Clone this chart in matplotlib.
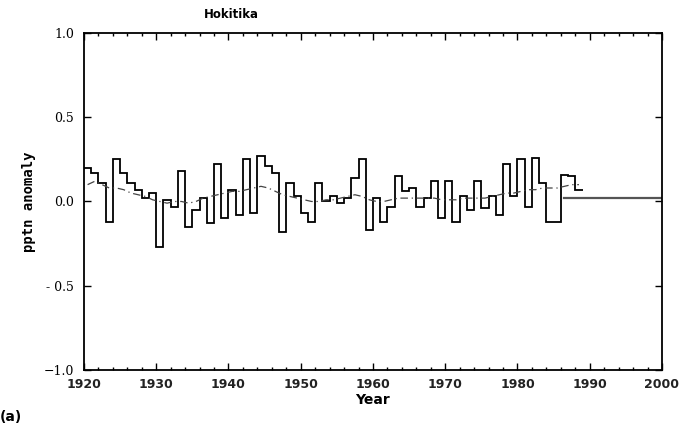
#Hokitika precipitation anomaly, step plot with smoothed curve
import numpy as np
import matplotlib.pyplot as plt

years = list(range(1920, 1989))
anomaly = [0.20, 0.17, 0.11, -0.12, 0.25, 0.17, 0.11, 0.07, 0.02, 0.05,
           -0.27, 0.01, -0.03, 0.18, -0.15, -0.05, 0.02, -0.13, 0.22, -0.10,
           0.07, -0.08, 0.25, -0.07, 0.27, 0.21, 0.17, -0.18, 0.11, 0.03,
           -0.07, -0.12, 0.11, 0.00, 0.03, -0.01, 0.02, 0.14, 0.25, -0.17,
           0.02, -0.12, -0.03, 0.15, 0.06, 0.08, -0.03, 0.02, 0.12, -0.10,
           0.12, -0.12, 0.03, -0.05, 0.12, -0.04, 0.03, -0.08, 0.22, 0.03,
           0.25, -0.03, 0.26, 0.11, -0.12, -0.12, 0.16, 0.15, 0.07]
smooth = [0.10, 0.12, 0.10, 0.08, 0.08, 0.07, 0.05, 0.04, 0.03, 0.01,
          0.00, -0.01, 0.00, 0.00, -0.01, 0.00, 0.02, 0.03, 0.04, 0.05,
          0.06, 0.06, 0.07, 0.08, 0.09, 0.08, 0.06, 0.04, 0.03, 0.02,
          0.01, 0.00, 0.00, 0.01, 0.01, 0.02, 0.03, 0.04, 0.03, 0.01,
          0.00, 0.00, 0.01, 0.02, 0.02, 0.02, 0.02, 0.02, 0.02, 0.01,
          0.01, 0.01, 0.02, 0.02, 0.02, 0.02, 0.03, 0.04, 0.05, 0.05,
          0.06, 0.07, 0.07, 0.08, 0.08, 0.08, 0.09, 0.10, 0.10]
mean_line_years = [1986.5, 2000]
mean_line_vals = [0.02, 0.02]

fig = plt.figure(figsize=(6.85, 4.24), dpi=100)
ax = fig.add_axes([0.1226, 0.1274, 0.8438, 0.7948])

edges = years + [years[-1] + 1]
ax.stairs(anomaly, edges, baseline=None, color='black', linewidth=1.3)
ax.plot(np.array(years) + 0.5, smooth, color='#444444', linewidth=0.9, dashes=(6, 3, 1, 3))
ax.plot(mean_line_years, mean_line_vals, color='#555555', linewidth=1.6)

ax.set_xlim(1920, 2000)
ax.set_ylim(-1.0, 1.0)
ax.set_xticks(range(1920, 2001, 10))
ax.set_xticks(range(1920, 2001, 2), minor=True)
ax.set_yticks([-1.0, -0.5, 0.0, 0.5, 1.0])
ax.set_yticklabels(['\u22121.0', '- 0.5', '0.0', '0.5', '1.0'], family='DejaVu Serif', fontsize=9)
ax.tick_params(axis='both', which='major', direction='in', length=5, top=True, right=True, width=1)
ax.tick_params(axis='both', which='minor', direction='in', length=2.5, top=True, right=True, width=1)
ax.tick_params(axis='x', labelsize=9, pad=6)
ax.tick_params(axis='y', pad=7)
for lab in ax.get_xticklabels():
    lab.set_fontweight('bold')
    lab.set_color('#222222')
for sp in ax.spines.values():
    sp.set_linewidth(1.3)

ax.set_xlabel('Year', fontsize=10, fontweight='bold', labelpad=1)
ax.set_ylabel('pptn anomaly', family='DejaVu Sans Mono', fontsize=10, fontweight='bold', labelpad=6)
fig.text(0.338, 0.965, 'Hokitika', fontsize=8.5, fontweight='bold', ha='center', va='center')
fig.text(0.0, 0.0, '(a)', fontsize=10, fontweight='bold', ha='left', va='bottom')

plt.savefig('out.png', dpi=100)
